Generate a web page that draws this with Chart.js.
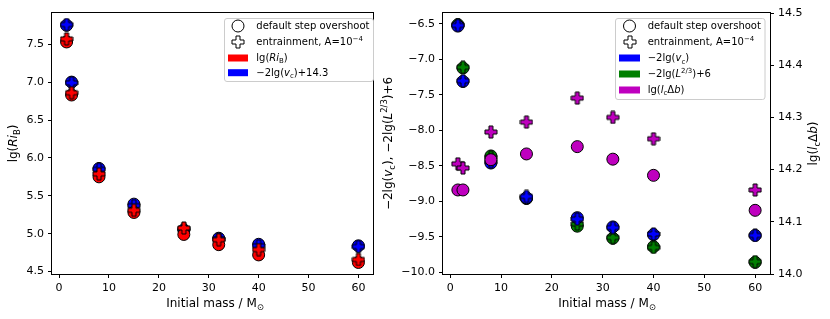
<!DOCTYPE html>
<html><head><meta charset="utf-8">
<script src="https://cdn.jsdelivr.net/npm/chart.js@4.4.1/dist/chart.umd.min.js"></script>
<style>
html,body{margin:0;padding:0;background:#fff;width:830px;height:319px;overflow:hidden}
#c1{position:absolute;left:0;top:0}
#c2{position:absolute;left:380px;top:0}
</style></head><body>
<canvas id="c1" width="380" height="319"></canvas>
<canvas id="c2" width="450" height="319"></canvas>
<script>
// ---------------- DATA ----------------
const masses = [1.5, 2.5, 8, 15, 25, 32, 40, 60];
// left panel
const riStep   = [7.53, 6.83, 5.75, 5.28, 4.99, 4.855, 4.72, 4.62];   // lg(Ri_B), default step overshoot
const riEntr   = [7.57, 6.86, 5.79, 5.31, 5.075, 4.92, 4.79, 4.66];   // lg(Ri_B), entrainment
const vcOffStep = [7.75, 7.00, 5.86, 5.39, 5.05, 4.94, 4.86, 4.84];   // -2lg(vc)+14.3, step
const vcOffEntr = [7.76, 6.99, 5.85, 5.37, 5.06, 4.93, 4.84, 4.83];   // -2lg(vc)+14.3, entrainment
// right panel
const vcStep = [-6.53, -7.31, -8.46, -8.95, -9.23, -9.36, -9.47, -9.48];
const vcEntr = [-6.52, -7.30, -8.44, -8.93, -9.25, -9.37, -9.46, -9.48];
const lumStep = [-6.51, -7.12, -8.36, -8.96, -9.35, -9.52, -9.64, -9.86];
const lumEntr = [-6.51, -7.11, -8.38, -8.95, -9.32, -9.51, -9.65, -9.85];
const lcdbStep = [14.161, 14.161, 14.219, 14.230, 14.244, 14.220, 14.189, 14.122];
const lcdbEntr = [14.211, 14.203, 14.272, 14.291, 14.337, 14.300, 14.259, 14.161];
// tick labels
const xTicks = [0, 10, 20, 30, 40, 50, 60];
const yTicksLeft = [4.5, 5.0, 5.5, 6.0, 6.5, 7.0, 7.5];
const yTicksRight = [-10.0, -9.5, -9.0, -8.5, -8.0, -7.5, -7.0, -6.5];
const y2TicksRight = [14.0, 14.1, 14.2, 14.3, 14.4, 14.5];
// text (segments: n normal, i italic, sub, sup)
const legStep = [["default step overshoot","n"]];
const legEntr = [["entrainment, A=10","n"],["\u22124","sup"]];
const legRi = [["lg(","n"],["Ri","i"],["B","sub"],[")","n"]];
const legVcOff = [["\u22122lg(","n"],["v","i"],["c","sub"],[")+14.3","n"]];
const legVc = [["\u22122lg(","n"],["v","i"],["c","sub"],[")","n"]];
const legLum = [["\u22122lg(","n"],["L","i"],["2/3","sup"],[")+6","n"]];
const legLcdb = [["lg(","n"],["l","i"],["c","sub"],["\u0394","n"],["b","i"],[")","n"]];
const xTitle = [["Initial mass / M","n"],["\u2299","sub"]];
const yTitleLeft = legRi;
const yTitleRight = [["\u22122lg(","n"],["v","i"],["c","sub"],["), \u22122lg(","n"],["L","i"],["2/3","sup"],[")+6","n"]];
const y2TitleRight = legLcdb;

// ---------------- STYLE ----------------
const RED = '#ff0000', BLUE = '#0000ff', GREEN = '#008000', MAG = '#bf00bf';
const FF = '"DejaVu Sans"';
const FS_LEG = 10, FS_TICK = 11, FS_TITLE = 12;

function plusMarker(fill, size){
  const c = document.createElement('canvas');
  c.width = c.height = size + 2;
  const g = c.getContext('2d');
  const m = (size + 2) / 2, h = size / 2, a = size / 6;
  g.beginPath();
  g.moveTo(m-a, m-h); g.lineTo(m+a, m-h); g.lineTo(m+a, m-a); g.lineTo(m+h, m-a);
  g.lineTo(m+h, m+a); g.lineTo(m+a, m+a); g.lineTo(m+a, m+h); g.lineTo(m-a, m+h);
  g.lineTo(m-a, m+a); g.lineTo(m-h, m+a); g.lineTo(m-h, m-a); g.lineTo(m-a, m-a);
  g.closePath();
  g.fillStyle = fill; g.fill();
  g.lineWidth = 1; g.strokeStyle = '#000'; g.stroke();
  return c;
}

function segFont(st, fs){
  const small = st === 'sub' || st === 'sup';
  return (st === 'i' ? 'italic ' : '') + (small ? fs*0.7 : fs) + 'px ' + FF;
}
function segDy(st, fs){ return st === 'sub' ? fs*0.22 : st === 'sup' ? -fs*0.42 : 0; }
function richWidth(ctx, segs, fs){
  let w = 0;
  for (const [t, st] of segs){ ctx.font = segFont(st, fs); w += ctx.measureText(t).width; }
  return w;
}
function drawRich(ctx, segs, x, y, align, fs){
  const w = richWidth(ctx, segs, fs);
  let cx = align === 'center' ? x - w/2 : (align === 'right' ? x - w : x);
  ctx.textAlign = 'left'; ctx.textBaseline = 'alphabetic'; ctx.fillStyle = '#000';
  for (const [t, st] of segs){
    ctx.font = segFont(st, fs);
    ctx.fillText(t, cx, y + segDy(st, fs));
    cx += ctx.measureText(t).width;
  }
}

const decoPlugin = {
  id: 'deco',
  afterDatasetsDraw(chart){
    const {ctx, chartArea: a} = chart;
    ctx.save();
    ctx.strokeStyle = '#000'; ctx.lineWidth = 1;
    ctx.strokeRect(Math.round(a.left) - 0.5, Math.round(a.top) - 0.5,
                   Math.round(a.right) - Math.round(a.left) + 1, Math.round(a.bottom) - Math.round(a.top) + 1);
    ctx.restore();
  },
  afterDraw(chart, args, o){
    const ctx = chart.ctx;
    ctx.save();
    const L = o.legend;
    ctx.beginPath();
    ctx.roundRect(L.x, L.y, L.w, L.h, 2.5);
    ctx.fillStyle = 'rgba(255,255,255,0.8)'; ctx.fill();
    ctx.strokeStyle = '#cccccc'; ctx.lineWidth = 1; ctx.stroke();
    for (const r of L.rows){
      const hx = L.hx + L.hw/2;
      if (r.kind === 'circle'){
        ctx.beginPath(); ctx.arc(hx, r.cy, 6, 0, Math.PI*2);
        ctx.fillStyle = '#fff'; ctx.fill(); ctx.strokeStyle = '#000'; ctx.lineWidth = 1; ctx.stroke();
      } else if (r.kind === 'plus'){
        const img = plusMarker('#fff', 12);
        ctx.drawImage(img, Math.round(hx - img.width/2), Math.round(r.cy - img.height/2));
      } else {
        ctx.fillStyle = r.color;
        ctx.fillRect(L.hx, r.cy - 3.5, L.hw, 7);
      }
      drawRich(ctx, r.segs, L.tx, r.tb, 'left', FS_LEG);
    }
    for (const t of o.titles){
      if (t.rot){
        ctx.save(); ctx.translate(t.x, t.y); ctx.rotate(-Math.PI/2);
        drawRich(ctx, t.segs, 0, 0, 'center', FS_TITLE);
        ctx.restore();
      } else {
        drawRich(ctx, t.segs, t.x, t.y, 'center', FS_TITLE);
      }
    }
    ctx.restore();
  }
};

function pts(arr){ return masses.map((m, i) => ({x: m, y: arr[i]})); }
function circleDs(arr, color, order, axis){
  return {data: pts(arr), pointStyle: 'circle', pointRadius: 6, pointHoverRadius: 6,
          backgroundColor: color, borderColor: '#000', borderWidth: 1, order, yAxisID: axis || 'y'};
}
function plusDs(arr, color, order, axis){
  return {data: pts(arr), pointStyle: plusMarker(color, 12), pointRadius: 6, pointHoverRadius: 6,
          backgroundColor: color, borderColor: '#000', borderWidth: 1, order, yAxisID: axis || 'y'};
}
const fmt1 = v => v.toFixed(1).replace('-', '\u2212');
function axisCommon(tickArr, fmt){
  return {
    type: 'linear',
    afterBuildTicks: s => { s.ticks = tickArr.map(v => ({value: v})); },
    ticks: {color: '#000', font: {family: 'DejaVu Sans', size: FS_TICK}, padding: 4, maxRotation: 0,
            autoSkip: false, callback: v => fmt(v)},
    grid: {display: true, drawOnChartArea: false, drawTicks: true, tickLength: 4, color: '#000', lineWidth: 1},
    border: {display: false}
  };
}

Chart.defaults.animation = false;
Chart.defaults.events = [];

// ---------------- LEFT CHART ----------------
new Chart(document.getElementById('c1'), {
  type: 'scatter',
  data: {datasets: [
    circleDs(vcOffStep, BLUE, 3),
    plusDs(vcOffEntr, BLUE, 2),
    circleDs(riStep, RED, 1),
    plusDs(riEntr, RED, 0)
  ]},
  options: {
    responsive: false, maintainAspectRatio: false,
    layout: {padding: {top: 13, right: 2, left: 0, bottom: 0}},
    scales: {
      x: Object.assign(axisCommon(xTicks, v => String(v)), {min: -1.425, max: 62.925, position: 'bottom',
         afterFit: s => { s.height = 45; }}),
      y: Object.assign(axisCommon(yTicksLeft, fmt1), {min: 4.468, max: 7.912, position: 'left',
         afterFit: s => { s.width = 52; }})
    },
    plugins: {
      legend: {display: false}, tooltip: {enabled: false},
      deco: {
        legend: {x: 224.5, y: 18.5, w: 149, h: 63, hx: 228, hw: 20, tx: 256.3, rows: [
          {kind: 'circle', cy: 26, tb: 29.4, segs: legStep},
          {kind: 'plus', cy: 42.3, tb: 45.4, segs: legEntr},
          {kind: 'rect', color: RED, cy: 58, tb: 61.2, segs: legRi},
          {kind: 'rect', color: BLUE, cy: 72.7, tb: 75.8, segs: legVcOff}
        ]},
        titles: [
          {segs: xTitle, x: 215, y: 307},
          {segs: yTitleLeft, x: 17.3, y: 143.5, rot: true}
        ]
      }
    }
  },
  plugins: [decoPlugin]
});

// ---------------- RIGHT CHART ----------------
new Chart(document.getElementById('c2'), {
  type: 'scatter',
  data: {datasets: [
    circleDs(lumStep, GREEN, 5),
    plusDs(lumEntr, GREEN, 4),
    circleDs(vcStep, BLUE, 3),
    plusDs(vcEntr, BLUE, 2),
    circleDs(lcdbStep, MAG, 1, 'y2'),
    plusDs(lcdbEntr, MAG, 0, 'y2')
  ]},
  options: {
    responsive: false, maintainAspectRatio: false,
    layout: {padding: {top: 13, right: 0, left: 0, bottom: 0}},
    scales: {
      x: Object.assign(axisCommon(xTicks, v => String(v)), {min: -1.425, max: 62.925, position: 'bottom',
         afterFit: s => { s.height = 45; }}),
      y: Object.assign(axisCommon(yTicksRight, fmt1), {min: -10.024, max: -6.345, position: 'left',
         afterFit: s => { s.width = 63; }}),
      y2: Object.assign(axisCommon(y2TicksRight, fmt1), {min: 14.0, max: 14.5, position: 'right',
         afterFit: s => { s.width = 60; }})
    },
    plugins: {
      legend: {display: false}, tooltip: {enabled: false},
      deco: {
        legend: {x: 235.5, y: 18.5, w: 149.5, h: 81, hx: 239, hw: 21, tx: 267.7, rows: [
          {kind: 'circle', cy: 26, tb: 29.2, segs: legStep},
          {kind: 'plus', cy: 42.3, tb: 45.4, segs: legEntr},
          {kind: 'rect', color: BLUE, cy: 58, tb: 61.3, segs: legVc},
          {kind: 'rect', color: GREEN, cy: 74, tb: 77.2, segs: legLum},
          {kind: 'rect', color: MAG, cy: 90, tb: 93.2, segs: legLcdb}
        ]},
        titles: [
          {segs: xTitle, x: 227, y: 307},
          {segs: yTitleRight, x: 12.3, y: 143.5, rot: true},
          {segs: y2TitleRight, x: 437.2, y: 143.5, rot: true}
        ]
      }
    }
  },
  plugins: [decoPlugin]
});
</script>
</body></html>
